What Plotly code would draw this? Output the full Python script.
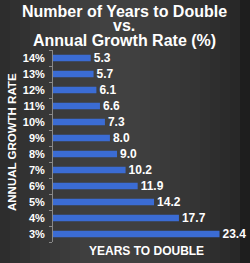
import plotly.graph_objects as go

rates = ["3%", "4%", "5%", "6%", "7%", "8%", "9%", "10%", "11%", "12%", "13%", "14%"]
years = [23.4, 17.7, 14.2, 11.9, 10.2, 9.0, 8.0, 7.3, 6.6, 6.1, 5.7, 5.3]
labels = [f"{v:.1f}" for v in years]
title_lines = ["Number of Years to Double", "vs.", "Annual Growth Rate (%)"]

W, H = 250, 263
pl, pr, pt, pb = 53, 12, 50, 21
pw, ph = W - pl - pr, H - pt - pb

FONT = "Liberation Sans, Arial"

fig = go.Figure(go.Bar(
    x=years, y=rates, orientation="h",
    marker=dict(color="#3b6cd4", line=dict(width=0)),
    text=labels, textposition="outside", cliponaxis=False, constraintext="none",
    textfont=dict(family=FONT, size=12, color="white", weight="bold"),
    width=0.42,
))

def py(ypix):
    return (H - pb - ypix) / ph

def px(xpix):
    return (xpix - pl) / pw

# background gradient via vertical strips spanning the full canvas
shapes = []
n = 25
for i in range(n):
    x0 = i / n
    x1 = (i + 1) / n
    c = (x0 + x1) / 2
    d = abs(c - 0.45) * 2
    v = int(66 - 26 * d ** 1.5)
    if c * W > 243:
        v = 30
    shapes.append(dict(type="rect", xref="paper", yref="paper",
                       x0=px(x0 * W), x1=px(x1 * W), y0=py(H), y1=py(0),
                       line=dict(width=0), fillcolor=f"rgb({v},{v},{v})", layer="below"))

annotations = []
for txt, yp in zip(title_lines, [11, 25.5, 40]):
    annotations.append(dict(text=f"<b>{txt}</b>", xref="paper", yref="paper",
                            x=px(124), y=py(yp), xanchor="center", yanchor="middle",
                            showarrow=False, font=dict(family=FONT, size=16, color="white")))
annotations.append(dict(text="<b>YEARS TO DOUBLE</b>", xref="paper", yref="paper",
                        x=px(146), y=py(251), xanchor="center", yanchor="middle", showarrow=False,
                        font=dict(family=FONT, size=12, color="white")))
annotations.append(dict(text="<b>ANNUAL GROWTH RATE</b>", xref="paper", yref="paper",
                        x=px(12), y=py(142), xanchor="center", yanchor="middle", showarrow=False,
                        textangle=-90, font=dict(family=FONT, size=11.5, color="white")))

fig.update_layout(
    width=W, height=H,
    margin=dict(l=pl, r=pr, t=pt, b=pb),
    paper_bgcolor="#3a3a3a", plot_bgcolor="rgba(0,0,0,0)",
    showlegend=False,
    xaxis=dict(range=[0, 26], showgrid=False, zeroline=False, showticklabels=False,
               showline=False, fixedrange=True),
    yaxis=dict(showline=True, linecolor="#888888", linewidth=1, ticks="outside",
               tickson="boundaries", ticklen=3, tickcolor="#888888",
               tickfont=dict(family=FONT, size=11, color="white", weight="bold"),
               showgrid=False, ticklabelstandoff=5),
    annotations=annotations,
    shapes=shapes,
)

fig.write_html("out.html")
